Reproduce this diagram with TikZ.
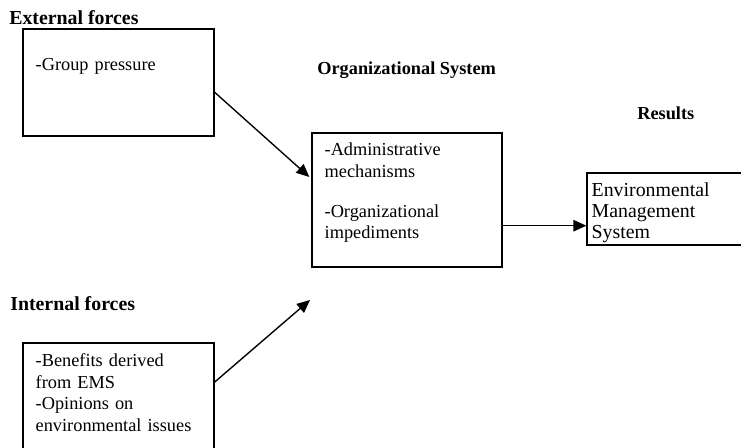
\documentclass[tikz,border=0pt]{standalone}
\usepackage{fontspec}
\setmainfont{Liberation Serif}
\usetikzlibrary{arrows.meta}
\usetikzlibrary{calc}
\usetikzlibrary{positioning}

\begin{document}
\begin{tikzpicture}[x=0.655pt,y=-0.655pt,
    box/.style={draw,line width=0.8pt,inner sep=0pt},
    item/.style={inner sep=0pt,anchor=base west,align=left,
      font=\fontsize{12}{14.2}\selectfont},
    title/.style={inner sep=0pt,anchor=base west,
      font=\fontsize{12}{14}\selectfont\bfseries},
    flow/.style={line width=0.9pt,-{Triangle[length=8.5pt,width=7.5pt]}}]
    \useasboundingbox (0,0) rectangle (741,448);
    \clip (0,0) rectangle (741,448);
    % the four boxes
    \node[box,minimum width=125.1pt,minimum height=70.1pt] (ext) at (118.5,82.5) {};
    \node[box,minimum width=124.5pt,minimum height=87.8pt] (org) at (407,200) {};
    \node[box,minimum width=119.9pt,minimum height=47.2pt] (res) at (678.5,209) {};
    \node[box,minimum width=125.1pt,minimum height=83.2pt] (int) at (118.5,406.5) {};
    % headings
    \node[title,font=\fontsize{13}{15}\selectfont\bfseries] (extt) at (9,25) {External forces};
    \node[title] (orgt) at (317,75) {Organizational System};
    \node[title] (rest) at (637,120) {Results};
    \node[title,font=\fontsize{13}{15}\selectfont\bfseries] (intt) at (10,311) {Internal forces};
    % box contents
    \node[item,text width=170pt] (extl) at ([shift={(13,42)}]ext.north west) {-Group pressure};
    \node[item,text width=110pt] (orgl) at ([shift={(13,23)}]org.north west)
      {-Administrative\\ mechanisms\\[12pt] -Organizational\\ impediments};
    \node[item,text width=110pt,font=\fontsize{13}{13.9}\selectfont] (resl)
      at ([shift={(5,24)}]res.north west) {Environmental\\ Management\\ System};
    \node[item,text width=118pt] (intl) at ([shift={(13,24)}]int.north west)
      {-Benefits derived\\ from EMS\\ -Opinions on\\ environmental issues};
    % connectors
    \coordinate (orgin) at ($(org.north west)!0.33!(org.south west)+(-2,0)$);
    \coordinate (orgout) at ($(org.north east)!0.69!(org.south east)$);
    \coordinate (intup) at (310,300);
    \draw[flow] ($(ext.north east)!0.59!(ext.south east)$) -- (orgin);
    \draw[flow] (orgout) -- (orgout -| res.west);
    \draw[flow] ($(int.north east)!0.31!(int.south east)$) -- (intup);
\end{tikzpicture}
\end{document}
